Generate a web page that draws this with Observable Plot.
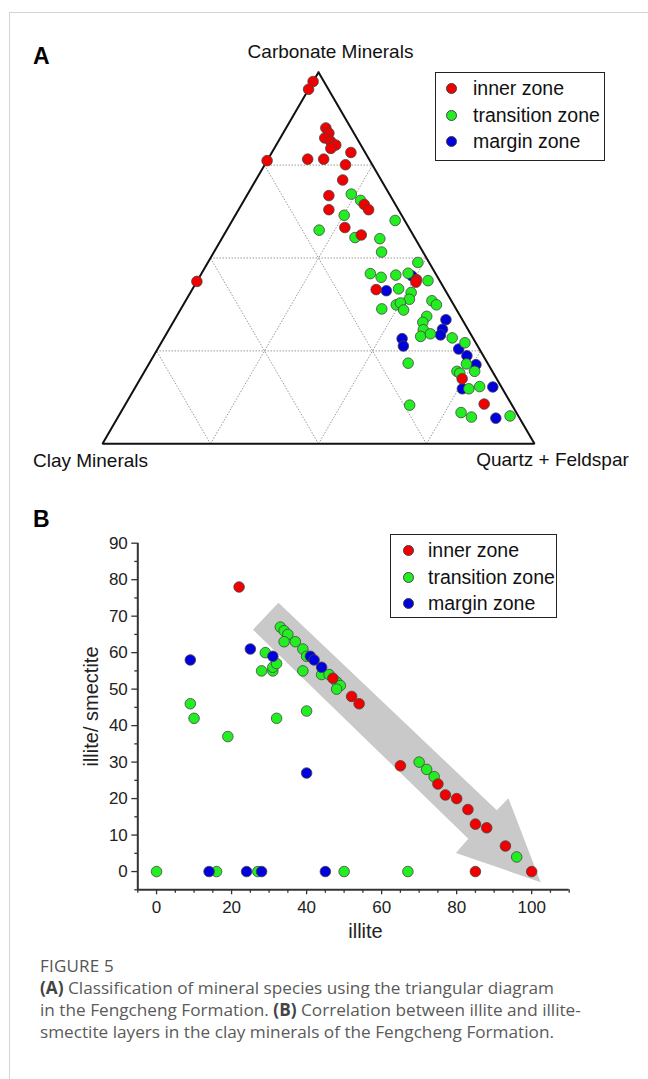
<!DOCTYPE html>
<html><head><meta charset="utf-8">
<script src="https://cdn.jsdelivr.net/npm/d3@7"></script>
<script src="https://cdn.jsdelivr.net/npm/@observablehq/plot@0.6"></script>
<style>
body{margin:0;background:#fff;}
#page{position:relative;width:648px;height:1079px;overflow:hidden;font-family:"Liberation Sans",Arial,sans-serif;}
#frame{position:absolute;left:9px;top:12px;width:700px;height:1200px;border-left:1.5px solid #d4d4d4;border-top:1.5px solid #d4d4d4;}
.panel{position:absolute;left:0;}
.tag{position:absolute;font-weight:bold;font-size:23px;color:#000;line-height:1;}
.legend{position:absolute;border:1.5px solid #222;background:#fff;box-sizing:border-box;}
.row{position:absolute;left:0;font-size:19.5px;color:#111;line-height:1;white-space:nowrap;}
.row span.m{position:absolute;width:11px;height:11px;border-radius:50%;border:0.8px solid #444;box-sizing:border-box;}
.row span.t{position:absolute;}
#caption{position:absolute;left:40px;top:955px;width:608px;font-family:"Open Sans",sans-serif;color:#5a5a5a;font-size:17.2px;line-height:22px;}
#caption .fig{font-size:17px;letter-spacing:0.2px;color:#555;}
#caption b{color:#444;}
</style></head>
<body><div id="page"><div id="frame"></div></div>
<script>
// ---------- Panel A: ternary data (%): carbonate minerals, quartz + feldspar; clay = 100 - both
const zones = ["inner zone", "transition zone", "margin zone"];
const zoneColors = ["#f20000", "#22ee22", "#0000dd"];

const innerCarb = [97.5,95.4,85.0,83.6,82.3,81.4,80.4,79.5,78.4,76.2,76.6,76.6,75.1,71.0,66.8,64.4,63.0,63.0,58.2,56.2,44.2,43.5,41.5,17.5,10.7,43.7];
const innerQtz  = [0,0,9.2,10.6,10.3,12.1,13.8,13.1,18.3,0,9.2,12.9,18.7,20.1,19.0,28.4,30.1,20.9,27.0,31.8,50.6,50.8,42.6,74.5,83.0,0];

const transCarb = [67.2,65.5,61.5,60.1,57.5,55.5,55.2,51.6,48.8,45.8,44.8,45.4,45.9,43.9,41.7,40.7,38.9,38.5,37.4,36.3,37.4,37.9,36.0,34.3,32.7,30.7,28.9,29.6,28.5,27.2,21.5,19.5,19.5,19.0,21.7,14.8,15.4,10.4,8.4,7.2,7.5];
const transQtz  = [24.0,27.0,25.2,37.7,21.4,30.7,36.6,38.8,48.6,39.1,42.1,45.2,47.8,53.4,47.7,51.1,51.6,57.0,58.6,46.5,49.3,50.0,51.7,57.9,57.8,58.9,59.2,61.1,66.7,70.3,73.5,76.4,72.3,73.2,59.9,77.4,79.6,65.9,78.8,81.8,90.6];

const marginCarb = [45.2,41.2,33.4,30.8,29.3,28.3,26.3,25.5,23.7,21.3,14.8,15.3,6.9];
const marginQtz  = [49.0,45.1,62.8,63.3,63.6,55.2,56.5,69.7,72.5,75.8,75.9,82.7,87.6];

const gridLevels = [25, 50, 75];
const vertexLabels = ["Carbonate Minerals", "Clay Minerals", "Quartz + Feldspar"];

// ---------- Panel B: illite vs illite/smectite (%)
const innerIllite = [22,47,52,54,65,75,77,80,83,85,88,93,100,85];
const innerIS     = [78,53,48,46,29,24,21,20,17,13,12,7,0,0];
const transIllite = [9,10,19,28,29,31,31,32,32,33,34,35,34,37,39,40,39,44,46,48,49,48,40,70,72,74,96,0,16,27,50,67];
const transIS     = [46,42,37,55,60,55,56,57,42,67,66,65,63,63,61,59,55,54,54,52,51,50,44,30,28,26,4,0,0,0,0,0];
const marginIllite = [9,25,31,41,42,44,40,14,24,28,45];
const marginIS     = [58,61,59,59,58,56,27,0,0,0,0];
// trend arrow outline (illite, illite/smectite)
const arrowIllite = [25.7,32.5,90.7,93.8,102.4,79.8,83.1];
const arrowIS     = [66.3,73.7,16.8,20.1,-2.9,5.1,9.0];
const yTicks = [0,10,20,30,40,50,60,70,80,90];
const xTicks = [0,20,40,60,80,100];

// ---------- build tables
const tern = (carb, qtz, zone) => carb.map((c, i) => ({zone, carb: c, qtz: qtz[i], clay: 100 - c - qtz[i],
  tx: qtz[i] / 100 + c / 200, ty: c / 100}));
const terA = [...tern(marginCarb, marginQtz, zones[2]), ...tern(transCarb, transQtz, zones[1]), ...tern(innerCarb, innerQtz, zones[0])];
const P = (q, c) => ({x: q / 100 + c / 200, y: c / 100});
const gridLinks = gridLevels.flatMap(k => {
  const a = P(0, k), b = P(100 - k, k);           // carbonate = k
  const c = P(k, 0), d = P(k, 100 - k);           // quartz = k
  const e = P(100 - k, 0), f = P(0, 100 - k);     // clay = k
  return [[a, b], [c, d], [e, f]].map(([s, t]) => ({x1: s.x, y1: s.y, x2: t.x, y2: t.y}));
});
const tri = [P(0, 100), P(0, 0), P(100, 0), P(0, 100)];
const vertices = [{...P(0, 100), label: vertexLabels[0]}, {...P(0, 0), label: vertexLabels[1]}, {...P(100, 0), label: vertexLabels[2]}];

const plotA = Plot.plot({
  width: 648, height: 480,
  x: {domain: [0, 1], range: [102, 534], axis: null},
  y: {domain: [0, 1], range: [443.3, 71.7], axis: null},
  color: {domain: zones, range: zoneColors},
  style: {fontFamily: '"Liberation Sans", Arial, sans-serif', background: "transparent"},
  marks: [
    Plot.link(gridLinks, {x1: "x1", y1: "y1", x2: "x2", y2: "y2", stroke: "#9a9a9a", strokeWidth: 1, strokeDasharray: "1.5,1.5"}),
    Plot.line(tri, {x: "x", y: "y", stroke: "#111", strokeWidth: 2, strokeLinejoin: "miter"}),
    Plot.dot(terA, {x: "tx", y: "ty", fill: "zone", r: 5.3, stroke: "#444", strokeWidth: 0.8}),
    Plot.text([vertices[0]], {x: "x", y: "y", text: "label", dx: 12, dy: -20, fontSize: 19, fill: "#111"}),
    Plot.text([vertices[1]], {x: "x", y: "y", text: "label", dx: -12, dy: 17, fontSize: 19, fill: "#111"}),
    Plot.text([vertices[2]], {x: "x", y: "y", text: "label", dx: 18, dy: 16, fontSize: 19, fill: "#111"})
  ]
});

const sc = (xs, ys, zone) => xs.map((x, i) => ({illite: x, is: ys[i], zone}));
const dataB = [...sc(transIllite, transIS, zones[1]), ...sc(marginIllite, marginIS, zones[2]), ...sc(innerIllite, innerIS, zones[0])];
const arrow = arrowIllite.map((x, i) => ({x, y: arrowIS[i]}));
const minorY = d3.range(-5, 91, 5).filter(v => v % 10 !== 0);
const minorX = d3.range(-5, 111, 5).filter(v => v % 20 !== 0);

const plotB = Plot.plot({
  width: 648, height: 450,
  marginLeft: 137.3, marginRight: 79.3, marginTop: 42.7, marginBottom: 60.7,
  x: {domain: [-5, 110], axis: null},
  y: {domain: [-5, 90], axis: null},
  color: {domain: zones, range: zoneColors},
  style: {fontFamily: '"Liberation Sans", Arial, sans-serif', background: "transparent", color: "#222", fontSize: "17px"},
  marks: [
    Plot.line(arrow, {x: "x", y: "y", fill: "#c9c9c9", stroke: "none", curve: "linear-closed"}),
    Plot.axisY(yTicks, {tickSize: 6, tickPadding: 4, fontSize: 17, stroke: "#333", strokeWidth: 1.3, fill: "#222"}),
    Plot.axisY(minorY, {tickSize: 3, text: null, stroke: "#333", strokeWidth: 1.3}),
    Plot.axisX(xTicks, {tickSize: 5, tickPadding: 6, fontSize: 17, stroke: "#333", strokeWidth: 1.3, fill: "#222"}),
    Plot.axisX(minorX, {tickSize: 3.5, text: null, stroke: "#333", strokeWidth: 1.3}),
    Plot.ruleX([-5], {y1: -5, y2: 90, stroke: "#333", strokeWidth: 2}),
    Plot.ruleY([-5], {x1: -5, x2: 110, stroke: "#333", strokeWidth: 2}),
    Plot.dot(dataB, {x: "illite", y: "is", fill: "zone", r: 5.3, stroke: "#444", strokeWidth: 0.8}),
    Plot.text(["illite"], {frameAnchor: "bottom", textAnchor: "middle", dx: 12, dy: 48, fontSize: 20, fill: "#222"}),
    Plot.text(["illite/ smectite"], {frameAnchor: "left", textAnchor: "middle", dx: -46, dy: -10, rotate: -90, fontSize: 20, fill: "#222"})
  ]
});

// ---------- layout
const page = document.getElementById("page");
function place(el, top) { const w = document.createElement("div"); w.className = "panel"; w.style.top = top + "px"; w.appendChild(el); page.appendChild(w); }
place(plotA, 0);
place(plotB, 500);

function tag(t, left, top) { const d = document.createElement("div"); d.className = "tag"; d.textContent = t; d.style.left = left + "px"; d.style.top = top + "px"; page.appendChild(d); }
tag("A", 33, 45);
tag("B", 33, 508);

function legend(left, top, w, h, rowTops, markX, textX) {
  const L = document.createElement("div"); L.className = "legend";
  Object.assign(L.style, {left: left + "px", top: top + "px", width: w + "px", height: h + "px"});
  zones.forEach((z, i) => {
    const r = document.createElement("div"); r.className = "row"; r.style.top = rowTops[i] + "px";
    const m = document.createElement("span"); m.className = "m"; m.style.background = zoneColors[i]; m.style.left = markX + "px"; m.style.top = "4px";
    const t = document.createElement("span"); t.className = "t"; t.textContent = z; t.style.left = textX + "px";
    r.appendChild(m); r.appendChild(t); L.appendChild(r);
  });
  page.appendChild(L);
}
legend(435, 72, 170, 89, [6, 33, 59], 10, 37);
legend(390, 534, 167, 84, [6, 33, 59], 12, 37);

const cap = document.createElement("div"); cap.id = "caption";
cap.innerHTML = '<div class="fig">FIGURE 5</div><div><b>(A)</b> Classification of mineral species using the triangular diagram<br>in the Fengcheng Formation. <b>(B)</b> Correlation between illite and illite-<br>smectite layers in the clay minerals of the Fengcheng Formation.</div>';
page.appendChild(cap);
</script></body></html>
